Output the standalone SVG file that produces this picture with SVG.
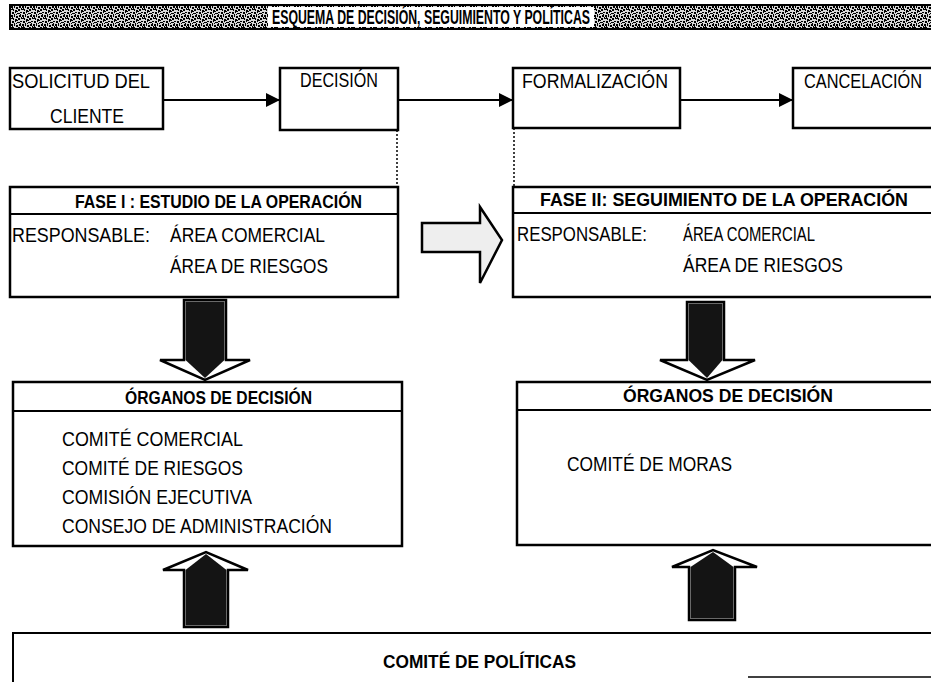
<svg xmlns="http://www.w3.org/2000/svg" width="931" height="682" viewBox="0 0 931 682">
<style>
.box{fill:#fff;stroke:#000;stroke-width:2.5}
.div{stroke:#000;stroke-width:2}
.t{font-family:"Liberation Sans Narrow","Liberation Sans",Arial,sans-serif;font-size:20px;fill:#000}
.b{font-weight:bold;font-size:19px}
.con{stroke:#000;stroke-width:2;fill:none}
.dot{stroke:#000;stroke-width:1.5;stroke-dasharray:2 2;fill:none}
.big{fill:#fff;stroke:#000;stroke-width:2.5;stroke-linejoin:miter}
.dark{fill:#141414}
</style>
<defs>
<pattern id="dith" width="11" height="9" patternUnits="userSpaceOnUse">
<rect width="11" height="9" fill="#d8d8d8"/>
<path d="M0 0h3v1h-3zM4 1h2v2h-2zM7 0h2v2h-2zM1 3h2v2h-2zM6 4h3v1h-3zM3 5h1v3h-1zM8 6h2v2h-2zM0 6h2v2h-2zM5 7h2v2h-2zM2 1h1v1h-1zM9 3h2v1h-2zM4 3h1v1h-1zM10 0h1v1h-1zM6 2h1v1h-1zM10 8h1v1h-1zM1 8h1v1h-1zM5 5h1v1h-1zM9 5h1v1h-1z" fill="#000"/>
</pattern>
<marker id="ah2" viewBox="0 0 14 14" refX="14" refY="7" markerWidth="14" markerHeight="14" markerUnits="userSpaceOnUse" orient="auto">
<path d="M0 0L14 7L0 14z" fill="#000"/>
</marker>
</defs>
<rect width="931" height="682" fill="#fff"/>

<g id="title">
<rect x="10" y="5" width="925" height="24" fill="url(#dith)" stroke="#000" stroke-width="2"/>
<rect x="268" y="7" width="326" height="20" fill="#fff"/>
<text class="t b" x="272" y="24" style="font-size:20px" textLength="318" lengthAdjust="spacingAndGlyphs">ESQUEMA DE DECISIÓN, SEGUIMIENTO Y POLÍTICAS</text>
</g>

<g id="connectors">
<line class="con" x1="163" y1="100" x2="280" y2="100" marker-end="url(#ah2)"/>
<line class="con" x1="398" y1="100" x2="513" y2="100" marker-end="url(#ah2)"/>
<line class="con" x1="680" y1="100" x2="793" y2="100" marker-end="url(#ah2)"/>
<line class="dot" x1="397" y1="130" x2="397" y2="187"/>
<line class="dot" x1="514" y1="128" x2="514" y2="187"/>
<g id="arrow-fases">
<path d="M422 223H480V207L502 240L480 283V252H422Z" fill="#eee" stroke="#000" stroke-width="2.5"/>
</g>
<g id="arrow-down-left">
<path class="big" d="M184 300H226V360H250L205 380L160 360H184Z"/>
<path class="dark" d="M185.5 301.5H224.5V360L205 378L185.5 360Z"/>
</g>
<g id="arrow-down-right">
<path class="big" d="M687 302H724V360H755L707 380L660 360H687Z"/>
<path class="dark" d="M688.5 303.5H722.5V360L707 378L688.5 360Z"/>
</g>
<g id="arrow-up-left">
<path class="big" d="M184 627H228V570H248L206 552L163 570H184Z"/>
<path class="dark" d="M185.5 625.5H226.5V570L206 554L185.5 570Z"/>
</g>
<g id="arrow-up-right">
<path class="big" d="M689 620H735V567H757L713 550L672 567H689Z"/>
<path class="dark" d="M690.5 618.5H733.5V567L713 552L690.5 567Z"/>
</g>
</g>

<g id="solicitud">
<rect class="box" x="10" y="68" width="153" height="61"/>
<text class="t" x="12" y="88" textLength="138" lengthAdjust="spacingAndGlyphs">SOLICITUD DEL</text>
<text class="t" x="50" y="123" textLength="74" lengthAdjust="spacingAndGlyphs">CLIENTE</text>
</g>

<g id="decision">
<rect class="box" x="280" y="68" width="118" height="62"/>
<text class="t" x="300" y="87" textLength="78" lengthAdjust="spacingAndGlyphs">DECISIÓN</text>
</g>

<g id="formalizacion">
<rect class="box" x="513" y="68" width="167" height="60"/>
<text class="t" x="522" y="88" textLength="146" lengthAdjust="spacingAndGlyphs">FORMALIZACIÓN</text>
</g>

<g id="cancelacion">
<rect class="box" x="793" y="68" width="140" height="60"/>
<text class="t" x="804" y="88" textLength="118" lengthAdjust="spacingAndGlyphs">CANCELACIÓN</text>
</g>

<g id="fase1">
<rect class="box" x="10" y="187" width="388" height="110"/>
<line class="div" x1="10" y1="214" x2="398" y2="214"/>
<text class="t b" x="75" y="208" textLength="287" lengthAdjust="spacingAndGlyphs">FASE I : ESTUDIO DE LA OPERACIÓN</text>
<text class="t" x="12" y="242" textLength="138" lengthAdjust="spacingAndGlyphs">RESPONSABLE:</text>
<text class="t" x="170" y="242" textLength="155" lengthAdjust="spacingAndGlyphs">ÁREA COMERCIAL</text>
<text class="t" x="170" y="273" textLength="158" lengthAdjust="spacingAndGlyphs">ÁREA DE RIESGOS</text>
</g>

<g id="fase2">
<rect class="box" x="513" y="187" width="425" height="110"/>
<line class="div" x1="513" y1="213" x2="931" y2="213"/>
<text class="t b" x="540" y="206" textLength="368" lengthAdjust="spacingAndGlyphs">FASE II: SEGUIMIENTO DE LA OPERACIÓN</text>
<text class="t" x="517" y="241" textLength="130" lengthAdjust="spacingAndGlyphs">RESPONSABLE:</text>
<text class="t" x="683" y="241" textLength="132" lengthAdjust="spacingAndGlyphs">ÁREA COMERCIAL</text>
<text class="t" x="683" y="272" textLength="160" lengthAdjust="spacingAndGlyphs">ÁREA DE RIESGOS</text>
</g>

<g id="organos1">
<rect class="box" x="13" y="382" width="389" height="164"/>
<line class="div" x1="13" y1="411" x2="402" y2="411"/>
<text class="t b" x="125" y="404" textLength="187" lengthAdjust="spacingAndGlyphs">ÓRGANOS DE DECISIÓN</text>
<text class="t" x="62" y="446" textLength="181" lengthAdjust="spacingAndGlyphs">COMITÉ  COMERCIAL</text>
<text class="t" x="62" y="475" textLength="181" lengthAdjust="spacingAndGlyphs">COMITÉ DE RIESGOS</text>
<text class="t" x="62" y="504" textLength="190" lengthAdjust="spacingAndGlyphs">COMISIÓN EJECUTIVA</text>
<text class="t" x="62" y="533" textLength="270" lengthAdjust="spacingAndGlyphs">CONSEJO DE ADMINISTRACIÓN</text>
</g>

<g id="organos2">
<rect class="box" x="517" y="382" width="420" height="163"/>
<line class="div" x1="517" y1="410" x2="931" y2="410"/>
<text class="t b" x="623" y="402" textLength="210" lengthAdjust="spacingAndGlyphs">ÓRGANOS DE DECISIÓN</text>
<text class="t" x="567" y="471" textLength="165" lengthAdjust="spacingAndGlyphs">COMITÉ DE MORAS</text>
</g>

<g id="politicas">
<path d="M13 690V633H935" class="con" stroke-width="2.5"/>
<line x1="748" y1="677" x2="931" y2="677" stroke="#000" stroke-width="1.5"/>
<text class="t b" x="383" y="668" textLength="193" lengthAdjust="spacingAndGlyphs">COMITÉ DE POLÍTICAS</text>
</g>
</svg>
